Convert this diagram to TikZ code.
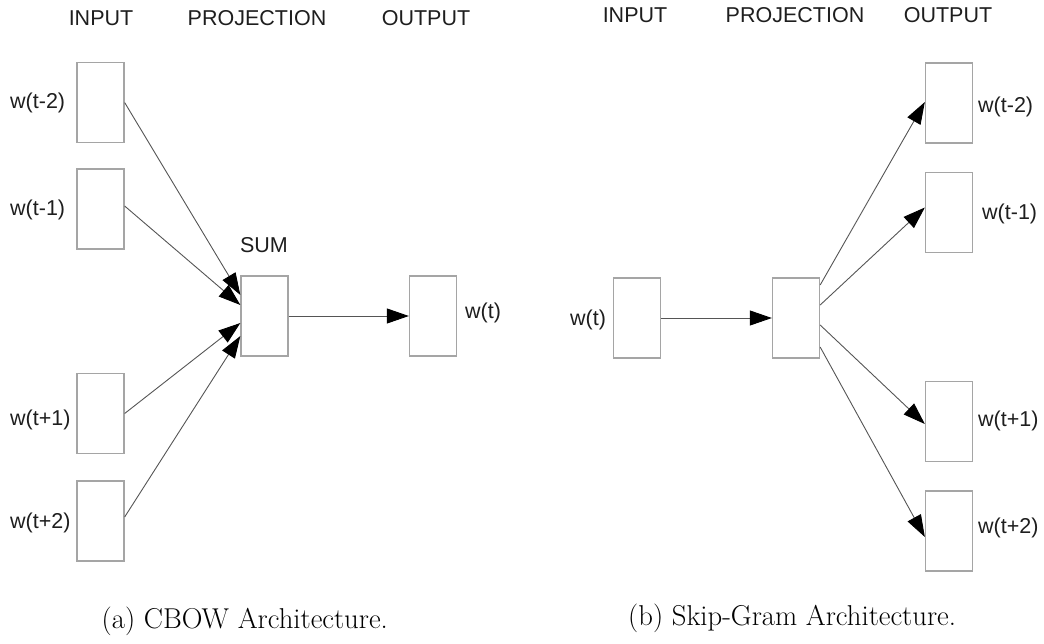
\documentclass[tikz,border=0pt]{standalone}
\usepackage{fontspec}
\newfontfamily\labelfont{Liberation Sans}
\usetikzlibrary{arrows.meta}
\definecolor{boxgray}{RGB}{165,165,165}
\definecolor{linegray}{RGB}{85,85,85}
\definecolor{txtgray}{RGB}{30,30,30}
\tikzset{
  wbox/.style={draw=boxgray, line width=1.3pt, fill=white, minimum width=47pt, minimum height=80pt, inner sep=0pt},
  lbl/.style={font=\labelfont\fontsize{21.5}{24}\selectfont, text=txtgray, inner sep=0pt},
  captext/.style={font=\fontsize{28.7}{34}\selectfont, text=black, inner sep=0pt, anchor=base west},
  conn/.style={draw=linegray, line width=0.9pt, -{Triangle[length=22pt,width=15pt,color=black]}}
}
\begin{document}
\begin{tikzpicture}[x=1pt,y=-1pt]
\useasboundingbox (0,0) rectangle (1044,643);
% ---------- CBOW ----------
\node[lbl, anchor=base] (hin1) at (101,25) {INPUT};
\node[lbl, anchor=base] (hpr1) at (257,25) {PROJECTION};
\node[lbl, anchor=base] (hout1) at (426,25) {OUTPUT};

\node[wbox] (i1) at (100.5,102.5) {};
\node[wbox] (i2) at (100.5,209) {};
\node[wbox] (i3) at (100.5,413.5) {};
\node[wbox] (i4) at (100.5,521) {};
\node[wbox] (sum) at (264.5,316) {};
\node[wbox] (out) at (433,316) {};

\node[lbl, anchor=west] (li1) at (10,103) {w(t-2)};
\node[lbl, anchor=west] (li2) at (10,210) {w(t-1)};
\node[lbl, anchor=west] (li3) at (10,420) {w(t+1)};
\node[lbl, anchor=west] (li4) at (10,523) {w(t+2)};
\node[lbl, anchor=base] (lsum) at (264,252) {SUM};
\node[lbl, anchor=west] (lout) at (465,313) {w(t)};

\draw[conn] (i1.east) -- ([yshift=21pt]sum.west);
\draw[conn] ([yshift=3pt]i2.east) -- ([yshift=11pt]sum.west);
\draw[conn] (i3.east) -- ([yshift=-7pt]sum.west);
\draw[conn] ([yshift=4pt]i4.east) -- ([yshift=-20pt]sum.west);
\draw[conn] (sum.east) -- (out.west);

\node[captext] (capa) at (101.5,628) {(a) CBOW Architecture.};

% ---------- Skip-gram ----------
\node[lbl, anchor=base] (hin2) at (635,22) {INPUT};
\node[lbl, anchor=base] (hpr2) at (795,22) {PROJECTION};
\node[lbl, anchor=base] (hout2) at (948,22) {OUTPUT};

\node[wbox] (inp) at (637,318) {};
\node[wbox] (proj) at (796,318) {};
\node[wbox] (o1) at (949,103) {};
\node[wbox] (o2) at (949,212.5) {};
\node[wbox] (o3) at (949,421.5) {};
\node[wbox] (o4) at (949,531) {};

\node[lbl, anchor=west] (linp) at (570,320) {w(t)};
\node[lbl, anchor=west] (lo1) at (978,107) {w(t-2)};
\node[lbl, anchor=west] (lo2) at (982,214) {w(t-1)};
\node[lbl, anchor=west] (lo3) at (978,421) {w(t+1)};
\node[lbl, anchor=west] (lo4) at (978,528) {w(t+2)};

\draw[conn] (inp.east) -- (proj.west);
\draw[conn] ([yshift=33pt]proj.east) -- ([yshift=1pt]o1.west);
\draw[conn] ([yshift=13pt]proj.east) -- ([yshift=5pt]o2.west);
\draw[conn] ([yshift=-7pt]proj.east) -- ([yshift=-2.5pt]o3.west);
\draw[conn] ([yshift=-29pt]proj.east) -- ([yshift=-6pt]o4.west);

\node[captext] (capb) at (628,625) {(b) Skip-Gram Architecture.};
\end{tikzpicture}
\end{document}
